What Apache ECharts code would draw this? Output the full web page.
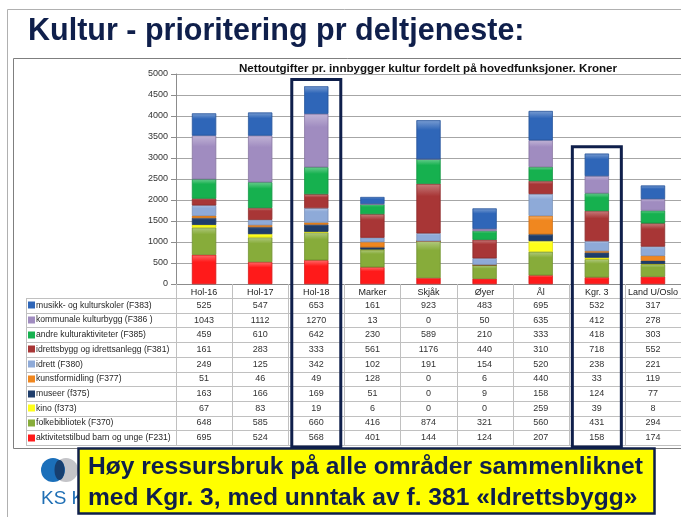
<!DOCTYPE html>
<html>
<head>
<meta charset="utf-8">
<script src="https://cdn.jsdelivr.net/npm/echarts@6/dist/echarts.min.js"></script>
<style>
  html, body { margin: 0; padding: 0; background: #fff; }
  #main { width: 681px; height: 517px; }
</style>
</head>
<body>
<div id="main"></div>
<script>
  // categories (kommuner / grupper)
  const categories = ['Hol-16', 'Hol-17', 'Hol-18', 'Marker', 'Skjåk', 'Øyer', 'Ål', 'Kgr. 3', 'Land U/Oslo'];

  // series, bottom of stack first
  const aktivitetstilbud = [695, 524, 568, 401, 144, 124, 207, 158, 174];
  const folkebibliotek = [648, 585, 660, 416, 874, 321, 560, 431, 294];
  const kino = [67, 83, 19, 6, 0, 0, 259, 39, 8];
  const museer = [163, 166, 169, 51, 0, 9, 158, 124, 77];
  const kunstformidling = [51, 46, 49, 128, 0, 6, 440, 33, 119];
  const idrett = [249, 125, 342, 102, 191, 154, 520, 238, 221];
  const idrettsbygg = [161, 283, 333, 561, 1176, 440, 310, 718, 552];
  const andreKultur = [459, 610, 642, 230, 589, 210, 333, 418, 303];
  const kulturbygg = [1043, 1112, 1270, 13, 0, 50, 635, 412, 278];
  const musikk = [525, 547, 653, 161, 923, 483, 695, 532, 317];

  const seriesNames = [
    'aktivitetstilbud barn og unge (F231)',
    'folkebibliotek (F370)',
    'kino (f373)',
    'museer (f375)',
    'kunstformidling (F377)',
    'idrett (F380)',
    'idrettsbygg og idrettsanlegg (F381)',
    'andre kulturaktiviteter (F385)',
    'kommunale kulturbygg (F386 )',
    'musikk- og kulturskoler (F383)'
  ];
  const seriesData = [aktivitetstilbud, folkebibliotek, kino, museer, kunstformidling,
    idrett, idrettsbygg, andreKultur, kulturbygg, musikk];
  const colors = ['#ff1a1a', '#87ac3a', '#ffff1a', '#1f3d6b', '#f0871f',
    '#8eaad8', '#a83636', '#16b14f', '#a08cc0', '#2f66b8'];

  // highlighted columns
  const highlighted = ['Hol-18', 'Kgr. 3'];

  const yTicks = [0, 500, 1000, 1500, 2000, 2500, 3000, 3500, 4000, 4500, 5000];

  const NAVY = '#0f1f4b';
  const tableFont = 'Liberation Sans, Arial, sans-serif';

  function lighten(hex, amt) {
    const n = parseInt(hex.slice(1), 16);
    let r = n >> 16, g = (n >> 8) & 255, b = n & 255;
    r = Math.round(r + (255 - r) * amt);
    g = Math.round(g + (255 - g) * amt);
    b = Math.round(b + (255 - b) * amt);
    return 'rgb(' + r + ',' + g + ',' + b + ')';
  }

  function darken(hex, amt) {
    const n = parseInt(hex.slice(1), 16);
    const r = Math.round((n >> 16) * (1 - amt));
    const g = Math.round(((n >> 8) & 255) * (1 - amt));
    const b = Math.round((n & 255) * (1 - amt));
    return 'rgb(' + r + ',' + g + ',' + b + ')';
  }

  const chart = echarts.init(document.getElementById('main'));

  chart.setOption({
    animation: false,
    backgroundColor: '#fff',
    grid: { left: 176, right: -2, top: 74, bottom: 233, containLabel: false },
    xAxis: {
      type: 'category',
      data: categories,
      axisLine: { lineStyle: { color: '#8c8c8c' } },
      axisTick: { show: false },
      axisLabel: { color: '#222', fontSize: 9, fontFamily: tableFont, margin: 4, interval: 0 }
    },
    yAxis: {
      type: 'value',
      min: yTicks[0],
      max: yTicks[yTicks.length - 1],
      interval: 500,
      axisLine: { show: true, lineStyle: { color: '#8c8c8c' } },
      axisTick: { show: true, length: 5, lineStyle: { color: '#8c8c8c' } },
      axisLabel: { color: '#333', fontSize: 9, fontFamily: tableFont, margin: 8, formatter: v => String(v) },
      splitLine: { lineStyle: { color: '#a6a6a6' } }
    },
    series: seriesData.map((d, i) => ({
      name: seriesNames[i],
      type: 'bar',
      stack: 'total',
      barWidth: 24,
      data: d,
      itemStyle: {
        borderColor: darken(colors[i], 0.15),
        borderWidth: 0.5,
        color: new echarts.graphic.LinearGradient(0, 0, 0, 1, [
          { offset: 0, color: lighten(colors[i], 0.35) },
          { offset: 0.25, color: colors[i] },
          { offset: 1, color: colors[i] }
        ])
      }
    }))
  });

  // table + decorations, placed from the axes
  const xs = categories.map(c => chart.convertToPixel({ xAxisIndex: 0 }, c));
  const band = xs[1] - xs[0];
  const yZero = chart.convertToPixel({ yAxisIndex: 0 }, 0);
  const headerTop = yZero;
  const rowTop = yZero + 14;
  const rowH = 14.7;
  const tableLeft = 26;
  const axisLeft = xs[0] - band / 2;
  const tableBottom = rowTop + rowH * seriesNames.length;

  const g = [];
  // slide border and chart frame
  g.push({ type: 'rect', shape: { x: 7.5, y: 9.5, width: 700, height: 520 },
    style: { fill: null, stroke: '#b0b0b0', lineWidth: 1 }, z: 0 });
  g.push({ type: 'rect', shape: { x: 13.5, y: 58.5, width: 700, height: tableBottom - 58 + 3 },
    style: { fill: null, stroke: '#7f7f7f', lineWidth: 1 }, z: 0 });

  // title
  g.push({ type: 'text', x: 28, y: 32, z: 10,
    style: { text: 'Kultur - prioritering pr deltjeneste:', fill: NAVY, fontSize: 30.5,
      fontWeight: 'bold', fontFamily: 'Liberation Sans, Arial, sans-serif', verticalAlign: 'middle' } });
  g.push({ type: 'text', x: 428, y: 69, z: 10,
    style: { text: 'Nettoutgifter pr. innbygger kultur fordelt på hovedfunksjoner. Kroner', fill: '#111',
      fontSize: 11.6, fontWeight: 'bold', fontFamily: tableFont, align: 'center', verticalAlign: 'middle' } });

  // table grid lines
  const lineStyle = { stroke: '#c0c0c0', lineWidth: 1 };
  for (let r = 0; r <= seriesNames.length; r++) {
    const y = Math.round(rowTop + rowH * r) + 0.5;
    g.push({ type: 'line', shape: { x1: tableLeft, y1: y, x2: 690, y2: y }, style: lineStyle, z: 5 });
  }
  g.push({ type: 'line', shape: { x1: tableLeft + 0.5, y1: rowTop, x2: tableLeft + 0.5, y2: tableBottom }, style: lineStyle, z: 5 });
  for (let c = 0; c <= categories.length; c++) {
    const x = Math.round(axisLeft + band * c) + 0.5;
    g.push({ type: 'line', shape: { x1: x, y1: headerTop, x2: x, y2: tableBottom }, style: lineStyle, z: 5 });
  }

  // table rows: top row is the top of the stack
  for (let r = 0; r < seriesNames.length; r++) {
    const si = seriesNames.length - 1 - r;
    const cy = rowTop + rowH * (r + 0.5);
    g.push({ type: 'rect', shape: { x: 28, y: Math.round(cy) - 3.5, width: 7, height: 7 },
      style: { fill: colors[si] }, z: 6 });
    g.push({ type: 'text', x: 36, y: cy, z: 6,
      style: { text: seriesNames[si], fill: '#262626', fontSize: 8.6, fontFamily: tableFont, verticalAlign: 'middle' } });
    seriesData[si].forEach((v, c) => {
      g.push({ type: 'text', x: xs[c], y: cy, z: 6,
        style: { text: String(v), fill: '#333', fontSize: 9, fontFamily: tableFont,
          align: 'center', verticalAlign: 'middle' } });
    });
  }

  // highlight boxes around selected columns
  highlighted.forEach(name => {
    const c = categories.indexOf(name);
    const total = seriesData.reduce((s, d) => s + d[c], 0);
    const top = chart.convertToPixel({ yAxisIndex: 0 }, total) - 7;
    g.push({ type: 'rect', shape: { x: xs[c] - 24.5, y: top, width: 49, height: tableBottom + 2 - top },
      style: { fill: null, stroke: NAVY, lineWidth: 3 }, z: 20 });
  });

  // KS logo
  g.push({ type: 'circle', shape: { cx: 66, cy: 470, r: 12 }, style: { fill: '#c4c4c8' }, z: 8 });
  g.push({ type: 'circle', shape: { cx: 53, cy: 470, r: 12 }, style: { fill: '#1b6fba' }, z: 9 });
  g.push({ type: 'ellipse', shape: { cx: 59.5, cy: 470, rx: 5, ry: 10 }, style: { fill: '#173f70' }, z: 9 });
  g.push({ type: 'text', x: 41, y: 499, z: 9,
    style: { text: 'KS KOMMUNESEKTORENS', fill: '#1f6fb5', fontSize: 19,
      fontFamily: 'Liberation Sans, Arial, sans-serif', verticalAlign: 'middle' } });

  // yellow conclusion box
  g.push({ type: 'rect', shape: { x: 78.5, y: 448.5, width: 576, height: 65 },
    style: { fill: '#ffff00', stroke: NAVY, lineWidth: 2.5 }, z: 30 });
  g.push({ type: 'text', x: 88, y: 467, z: 31,
    style: { text: 'Høy ressursbruk på alle områder sammenliknet', fill: NAVY, fontSize: 24.6,
      fontWeight: 'bold', fontFamily: 'Liberation Sans, Arial, sans-serif', verticalAlign: 'middle' } });
  g.push({ type: 'text', x: 88, y: 498, z: 31,
    style: { text: 'med Kgr. 3, med unntak av f. 381 «Idrettsbygg»', fill: NAVY, fontSize: 24.6,
      fontWeight: 'bold', fontFamily: 'Liberation Sans, Arial, sans-serif', verticalAlign: 'middle' } });

  chart.setOption({ graphic: g });
</script>
</body>
</html>
